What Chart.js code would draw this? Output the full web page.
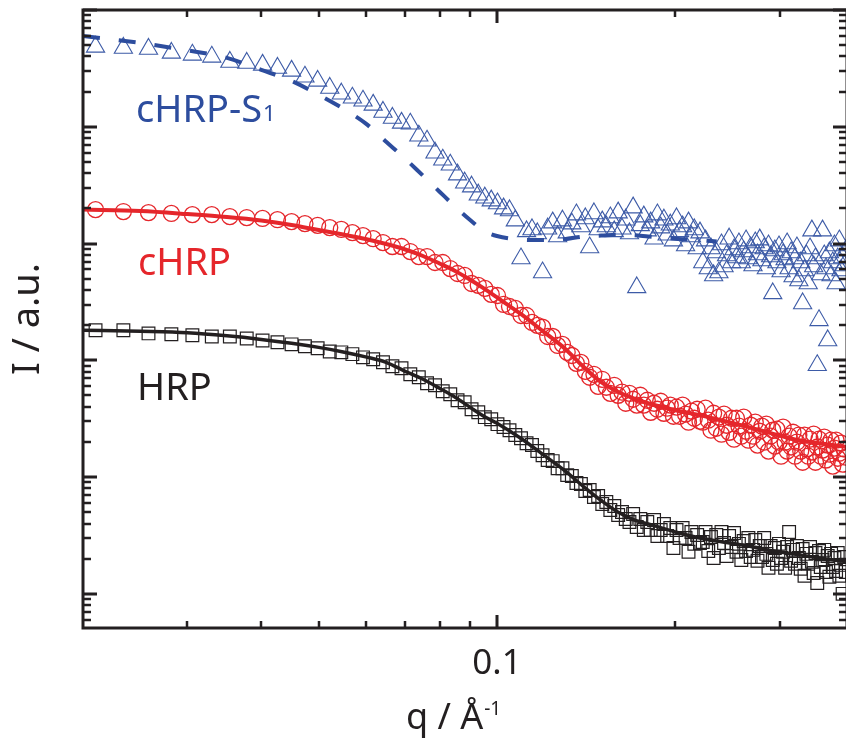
<!DOCTYPE html>
<html lang="en">
<head>
  <meta charset="UTF-8">
  <title>SAXS curves HRP / cHRP / cHRP-S1</title>
  <script src="https://cdn.jsdelivr.net/npm/chart.js"></script>
  <style>
    * { margin: 0; padding: 0; }
    html, body { width: 846px; height: 740px; overflow: hidden; background: #fff; }
    #wrap { width: 848px; height: 740px; }
  </style>
</head>
<body>
  <div id="wrap"><canvas id="saxs" width="848" height="740"></canvas></div>

  <script>
    // measured q values (1/A)
    var qData = [
      0.0210, 0.0234, 0.0258, 0.0282, 0.0306, 0.0330, 0.0354, 0.0378, 0.0402, 0.0426,
      0.0450, 0.0474, 0.0498, 0.0522, 0.0546, 0.0570, 0.0594, 0.0618, 0.0642, 0.0666,
      0.0690, 0.0714, 0.0738, 0.0762, 0.0786, 0.0810, 0.0834, 0.0858, 0.0882, 0.0906,
      0.0930, 0.0954, 0.0978, 0.1002, 0.1026, 0.1050, 0.1074, 0.1098, 0.1122, 0.1146,
      0.1170, 0.1194, 0.1218, 0.1242, 0.1266, 0.1290, 0.1314, 0.1338, 0.1362, 0.1386,
      0.1410, 0.1434, 0.1458, 0.1482, 0.1506, 0.1530, 0.1554, 0.1578, 0.1602, 0.1626,
      0.1650, 0.1674, 0.1698, 0.1722, 0.1746, 0.1770, 0.1794, 0.1818, 0.1842, 0.1866,
      0.1890, 0.1914, 0.1938, 0.1962, 0.1986, 0.2010, 0.2034, 0.2058, 0.2082, 0.2106,
      0.2130, 0.2154, 0.2178, 0.2202, 0.2226, 0.2250, 0.2274, 0.2298, 0.2322, 0.2346,
      0.2370, 0.2394, 0.2418, 0.2442, 0.2466, 0.2490, 0.2514, 0.2538, 0.2562, 0.2586,
      0.2610, 0.2634, 0.2658, 0.2682, 0.2706, 0.2730, 0.2754, 0.2778, 0.2802, 0.2826,
      0.2850, 0.2874, 0.2898, 0.2922, 0.2946, 0.2970, 0.2994, 0.3018, 0.3042, 0.3066,
      0.3090, 0.3114, 0.3138, 0.3162, 0.3186, 0.3210, 0.3234, 0.3258, 0.3282, 0.3306,
      0.3330, 0.3354, 0.3378, 0.3402, 0.3426, 0.3450, 0.3474, 0.3498, 0.3522, 0.3546,
      0.3570, 0.3594, 0.3618, 0.3642, 0.3666, 0.3690, 0.3714, 0.3738, 0.3762, 0.3786,
      0.3810, 0.3834, 0.3858, 0.3882
    ];

    var hrpI = [
      181, 181, 170, 167, 164, 160, 160, 154, 148, 143,
      137, 132, 127, 119, 117, 113, 106, 102, 96.1, 88.9,
      85.4, 75.9, 71.6, 63.6, 61.1, 54.3, 51.2, 45.5, 43.8, 38.1,
      35.9, 32.6, 31.3, 28.4, 26.8, 25.2, 22.9, 21.5, 19.5, 18.8,
      16.7, 15.4, 14.0, 13.7, 11.9, 11.9, 10.4, 10.2, 8.89, 8.71,
      7.59, 7.74, 6.75, 6.88, 5.88, 6.11, 5.22, 5.65, 4.73, 5.02,
      4.38, 4.13, 4.83, 3.74, 4.38, 3.52, 4.13, 3.52, 4.29, 3.13,
      3.52, 3.97, 3.13, 3.67, 2.47, 3.52, 3.01, 3.67, 3.01, 2.29,
      3.39, 2.68, 3.19, 2.73, 2.78, 3.39, 2.33, 3.07, 2.03, 3.19,
      2.47, 3.39, 2.73, 2.11, 3.13, 2.52, 3.32, 2.29, 2.68, 1.95,
      2.84, 2.33, 3.01, 2.07, 2.38, 2.89, 1.92, 2.57, 2.07, 3.01,
      2.20, 1.67, 2.57, 1.95, 2.47, 1.81, 2.68, 2.03, 2.29, 1.67,
      2.52, 3.39, 1.92, 2.38, 1.81, 2.57, 2.03, 1.64, 2.42, 1.43,
      2.20, 1.81, 2.52, 1.88, 1.51, 2.24, 1.24, 2.33, 1.70, 1.95,
      2.38, 1.54, 2.11, 1.40, 2.20, 1.70, 2.03, 1.57, 2.24, 1.43,
      1.77, 1.00, 2.07, 1.54
    ];

    var chrpI = [
      1950, 1880, 1840, 1810, 1770, 1770, 1700, 1670, 1640, 1600,
      1540, 1480, 1430, 1370, 1320, 1240, 1170, 1100, 1020, 943,
      943, 854, 774, 774, 688, 688, 611, 554, 533, 455,
      438, 413, 367, 359, 301, 289, 278, 242, 242, 211,
      199, 192, 160, 160, 134, 137, 117, 110, 94.3, 96.1,
      80.5, 71.6, 75.9, 59.9, 68.8, 58.8, 52.2, 61.1, 50.2, 53.3,
      42.9, 52.2, 46.4, 41.3, 50.2, 41.3, 45.5, 35.9, 42.9, 38.1,
      44.6, 35.2, 38.9, 41.3, 33.2, 39.7, 33.2, 41.3, 34.6, 29.5,
      36.7, 31.9, 38.1, 30.1, 29.5, 38.9, 30.7, 25.2, 35.2, 26.2,
      32.6, 23.3, 34.6, 27.8, 24.2, 31.9, 21.1, 31.9, 27.3, 22.4,
      32.6, 24.7, 20.7, 27.8, 22.4, 29.5, 18.8, 24.7, 27.3, 19.9,
      28.4, 16.7, 22.4, 25.2, 18.4, 25.7, 19.9, 15.1, 26.8, 19.9,
      16.7, 22.4, 18.1, 24.2, 15.1, 19.9, 22.9, 16.7, 13.4, 22.9,
      17.4, 15.1, 21.1, 16.4, 23.3, 13.4, 18.1, 21.1, 15.1, 17.0,
      22.0, 14.0, 18.8, 15.7, 20.7, 12.4, 17.7, 20.7, 14.5, 16.0,
      19.5, 12.9, 17.4, 14.8
    ];

    var chrpS1I = [
      48300, 47300, 46400, 42900, 41300, 39700, 35900, 35200, 33900, 31900,
      30100, 26800, 24700, 21500, 19200, 17700, 16700, 15400, 13400, 11900,
      10800, 10600, 8380, 7590, 6000, 5220, 4730, 3890, 3320, 3070,
      2620, 2470, 2330, 2200, 1990, 1920, 1570, 744, 1270, 1320,
      1220, 565, 1340, 1510, 1150, 1570, 1240, 1480, 1770, 1400,
      1640, 924, 1810, 1320, 1540, 1400, 1670, 1270, 1840, 1340,
      1600, 1220, 2030, 421, 1430, 1700, 1290, 1510, 1100, 1770,
      1370, 1600, 1190, 1450, 1060, 1640, 1270, 1400, 961, 1510,
      1150, 1320, 906, 1240, 688, 1060, 611, 906, 533, 838,
      565, 981, 636, 790, 1100, 688, 889, 759, 1000, 688,
      854, 1060, 744, 924, 649, 1020, 805, 1080, 716, 906,
      611, 961, 774, 374, 871, 688, 943, 576, 805, 730,
      1000, 611, 838, 522, 744, 924, 483, 688, 307, 588,
      790, 455, 906, 1290, 636, 744, 90.6, 220, 543, 1290,
      790, 611, 148, 838, 533, 688, 961, 455, 744, 1060,
      588, 759, 649, 871
    ];

    // model fits
    var qFit = [0.020, 0.025, 0.030, 0.035, 0.040, 0.045, 0.050, 0.055, 0.060, 0.065, 0.070,
                0.075, 0.080, 0.085, 0.090, 0.095, 0.100, 0.110, 0.120, 0.130, 0.140, 0.150,
                0.160, 0.170, 0.180, 0.200, 0.220, 0.235, 0.260, 0.290, 0.320, 0.350, 0.390];
    var hrpFit = [181, 177, 172, 162, 151, 140, 129, 118, 107, 96.1, 80.5,
                  68.8, 57.6, 48.3, 39.7, 33.2, 28.9, 21.3, 15.4, 11.4, 8.30, 6.30,
                  5.02, 4.33, 3.97, 3.39, 3.01, 2.84, 2.62, 2.35, 2.18, 2.03, 1.88];
    var chrpFit = [1953, 1896, 1787, 1685, 1573, 1440, 1304, 1194, 1093, 990, 889,
                   782, 675, 582, 492, 413, 346, 247, 175, 127, 88.0, 64.9,
                   53.8, 47.3, 42.9, 37.4, 33.9, 31.3, 27.6, 23.8, 20.9, 19.5, 18.1];
    var chrpS1Fit = [59900, 52200, 45100, 38900, 30700, 24700, 18800, 14300, 10700, 7440, 5330,
                     3810, 2780, 2070, 1600, 1290, 1160, 1080, 1070, 1090, 1150, 1170,
                     1190, 1180, 1150, 1100, 1070, 1040, null, null, null, null, null];

    var xTickLabels = [0.1];
    var xMinorTicks = [0.03, 0.04, 0.05, 0.06, 0.07, 0.08, 0.09, 0.2, 0.3];
    var yDecades = [1, 10, 100, 1000, 10000, 100000];

    var BLACK = '#231f20', RED = '#e5262b', BLUE = '#2d4d9e', TRI = '#3d5ba7';

    function pts(xs, ys) {
      return xs.map(function (x, i) { return { x: x, y: ys[i] }; })
               .filter(function (p) { return p.y !== null; });
    }

    // frame, inward ticks on all four sides, in-plot labels, x title
    var frameTicks = {
      id: 'frameTicks',
      afterDraw: function (chart) {
        var ctx = chart.ctx, a = chart.chartArea;
        var xs = chart.scales.x, ys = chart.scales.y;
        ctx.save();
        ctx.strokeStyle = BLACK;
        ctx.lineCap = 'butt';

        function xTick(v, len, w) {
          var px = Math.round(xs.getPixelForValue(v));
          ctx.lineWidth = w;
          ctx.beginPath();
          ctx.moveTo(px, a.bottom); ctx.lineTo(px, a.bottom - len);
          ctx.moveTo(px, a.top); ctx.lineTo(px, a.top + len);
          ctx.stroke();
        }
        function yTick(v, len, w) {
          if (v < ys.min || v > ys.max) return;
          var py = Math.round(ys.getPixelForValue(v));
          ctx.lineWidth = w;
          ctx.beginPath();
          ctx.moveTo(a.left, py); ctx.lineTo(a.left + len, py);
          ctx.moveTo(a.right, py); ctx.lineTo(a.right - len, py);
          ctx.stroke();
        }

        xMinorTicks.forEach(function (v) { xTick(v, 7, 2.5); });
        xTickLabels.forEach(function (v) { xTick(v, 13, 3); });

        yDecades.forEach(function (d) {
          yTick(d, 14, 3);
          for (var m = 2; m <= 9; m++) {
            yTick(d * m / 10, 8, 2.5);
          }
        });

        ctx.lineWidth = 3;
        ctx.strokeRect(a.left, a.top, a.right - a.left, a.bottom - a.top);

        // series labels
        ctx.textBaseline = 'alphabetic';
        ctx.textAlign = 'left';
        ctx.font = '38px "Noto Sans"';
        ctx.fillStyle = BLUE;
        ctx.fillText('cHRP-S', 136, 122);
        var w = ctx.measureText('cHRP-S').width;
        ctx.font = '22px "Noto Sans"';
        ctx.fillText('1', 136 + w + 1, 121);

        ctx.font = '38px "Noto Sans"';
        ctx.fillStyle = RED;
        ctx.fillText('cHRP', 138, 275);
        ctx.fillStyle = BLACK;
        ctx.fillText('HRP', 137, 400);

        // x axis title with superscript
        ctx.font = '36px "Noto Sans"';
        var main = 'q / \u00C5';
        var wm = ctx.measureText(main).width;
        ctx.font = '19px "Noto Sans"';
        var ws = ctx.measureText('-1').width;
        var x0 = 453 - (wm + ws) / 2;
        ctx.fillStyle = BLACK;
        ctx.font = '36px "Noto Sans"';
        ctx.fillText(main, x0, 729);
        ctx.font = '19px "Noto Sans"';
        ctx.fillText('-1', x0 + wm + 1, 715);
        ctx.restore();
      }
    };

    Chart.defaults.font.family = '"Noto Sans"';
    Chart.defaults.color = BLACK;

    var ctx = document.getElementById('saxs').getContext('2d');
    var saxsChart = new Chart(ctx, {
      type: 'scatter',
      data: {
        datasets: [
          {
            label: 'cHRP-S1 fit',
            data: pts(qFit, chrpS1Fit),
            showLine: true,
            borderColor: BLUE,
            borderWidth: 4,
            borderDash: [17, 19],
            pointRadius: 0,
            cubicInterpolationMode: 'monotone',
            order: 0
          },
          {
            label: 'cHRP fit',
            data: pts(qFit, chrpFit),
            showLine: true,
            borderColor: RED,
            borderWidth: 4,
            pointRadius: 0,
            cubicInterpolationMode: 'monotone',
            order: 0
          },
          {
            label: 'HRP fit',
            data: pts(qFit, hrpFit),
            showLine: true,
            borderColor: BLACK,
            borderWidth: 3.5,
            pointRadius: 0,
            cubicInterpolationMode: 'monotone',
            order: 0
          },
          {
            label: 'cHRP-S1',
            data: pts(qData, chrpS1I),
            pointStyle: 'triangle',
            pointRadius: 10.5,
            pointBorderWidth: 1.1,
            borderColor: TRI,
            backgroundColor: 'rgba(0,0,0,0)',
            order: 1
          },
          {
            label: 'cHRP',
            data: pts(qData, chrpI),
            pointStyle: 'circle',
            pointRadius: 8,
            pointBorderWidth: 1.3,
            borderColor: RED,
            backgroundColor: 'rgba(0,0,0,0)',
            order: 1
          },
          {
            label: 'HRP',
            data: pts(qData, hrpI),
            pointStyle: 'rect',
            pointRadius: 9,
            pointBorderWidth: 1.2,
            borderColor: BLACK,
            backgroundColor: 'rgba(0,0,0,0)',
            order: 1
          }
        ]
      },
      options: {
        responsive: false,
        animation: false,
        events: [],
        layout: { autoPadding: false, padding: { top: 10, right: 1, left: 0, bottom: 0 } },
        plugins: {
          legend: { display: false },
          tooltip: { enabled: false }
        },
        scales: {
          x: {
            type: 'logarithmic',
            min: 0.02,
            max: 0.39,
            grid: { display: false, drawTicks: false },
            border: { display: false },
            afterBuildTicks: function (scale) {
              scale.ticks = xTickLabels.map(function (v) { return { value: v }; });
            },
            afterFit: function (scale) { scale.height = 112; },
            ticks: {
              autoSkip: false,
              maxRotation: 0,
              padding: 15,
              color: BLACK,
              font: { size: 35 },
              callback: function (v) { return xTickLabels.indexOf(v) >= 0 ? String(v) : ''; }
            }
          },
          y: {
            type: 'logarithmic',
            min: 0.51,
            max: 100000,
            grid: { display: false, drawTicks: false },
            border: { display: false },
            ticks: { display: false },
            afterFit: function (scale) { scale.width = 83; },
            title: {
              display: true,
              text: 'I / a.u.',
              color: BLACK,
              font: { size: 38 },
              padding: { top: 5, bottom: 0 }
            }
          }
        }
      },
      plugins: [frameTicks]
    });
  </script>
</body>
</html>
